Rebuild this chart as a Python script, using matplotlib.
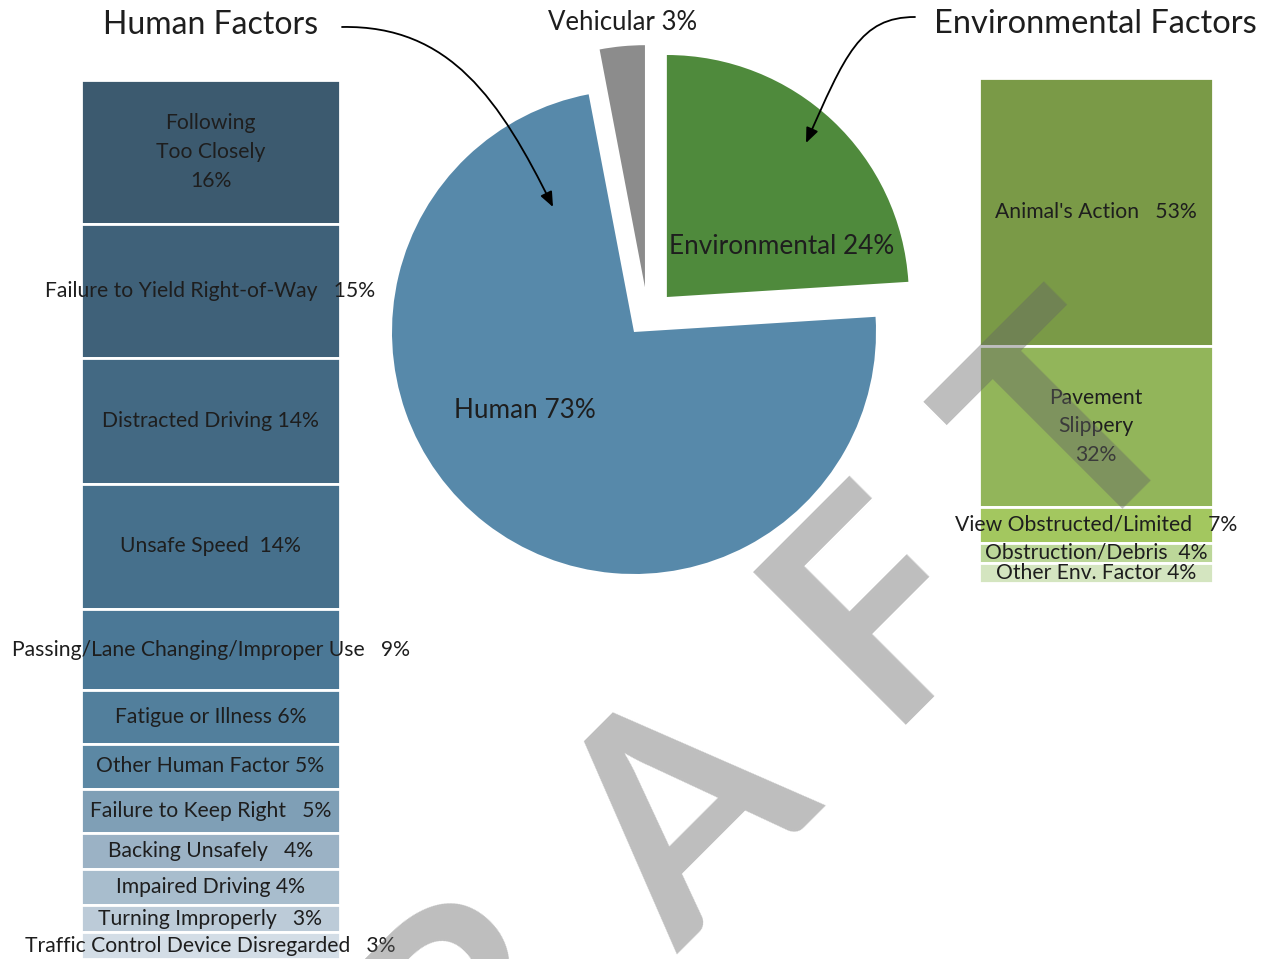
import numpy as np
import matplotlib.pyplot as plt
from matplotlib.patches import FancyArrowPatch
from matplotlib.path import Path

plt.rcParams['font.family'] = ['Lato', 'DejaVu Sans']

W, H = 1268, 959

# pie: share of crashes by factor group
pie_names = ["Environmental", "Vehicular", "Human"]
pie_values = [24, 3, 73]
pie_colors = ["#4f8a3c", "#8c8c8c", "#5789aa"]

# human factors (top to bottom of the left bar)
human_names = ["Following\nToo Closely", "Failure to Yield Right-of-Way",
               "Distracted Driving", "Unsafe Speed",
               "Passing/Lane Changing/Improper Use", "Fatigue or Illness",
               "Other Human Factor", "Failure to Keep Right",
               "Backing Unsafely", "Impaired Driving", "Turning Improperly",
               "Traffic Control Device Disregarded"]
human_values = [16, 15, 14, 14, 9, 6, 5, 5, 4, 4, 3, 3]
human_seps = ["\n", "   ", " ", "  ", "   ", " ", " ", "   ", "   ", " ", "   ", "   "]
human_colors = ["#3c5a6f", "#3f6179", "#436983", "#46708c", "#4b7896", "#527f9c",
                "#5c88a4", "#7f9fb6", "#9bb2c5", "#a8bdcd", "#bccbd8", "#d3dde6"]

# environmental factors (top to bottom of the right bar)
env_names = ["Animal's Action", "Pavement\nSlippery", "View Obstructed/Limited",
             "Obstruction/Debris", "Other Env. Factor"]
env_values = [53, 32, 7, 4, 4]
env_seps = ["   ", "\n", "   ", "  ", " "]
env_colors = ["#7a9a47", "#92b55a", "#a3c75f", "#bcd799", "#d4e5c0"]

txt = "#1e1e1e"

fig = plt.figure(figsize=(W / 100, H / 100), dpi=100)

# main axes in pixel units (y up)
ax = fig.add_axes([0, 0, 1, 1])
wedges, _ = ax.pie(pie_values, colors=pie_colors, explode=[48, 43, 0], startangle=3.6,
                   center=(634, H - 332), radius=242, frame=True)
# Excel pushed the small slice a little to the right
wedges[1].set_center(np.add(wedges[1].center, (15, 2)))
ax.set_xlim(0, W)
ax.set_ylim(0, H)
ax.set_aspect('auto')
ax.axis('off')

ax.text(525, H - 411, f"{pie_names[2]} {pie_values[2]}%", fontsize=18.8,
        ha='center', va='center', color=txt)
ax.text(782, H - 247, f"{pie_names[0]} {pie_values[0]}%", fontsize=18.8,
        ha='center', va='center', color=txt)
ax.text(623, H - 22, f"{pie_names[1]} {pie_values[1]}%", fontsize=18.5,
        ha='center', va='center', color=txt)

ax.text(211, H - 25, "Human Factors", fontsize=23, ha='center', va='center', color=txt)
ax.text(1095, H - 24, "Environmental Factors", fontsize=23.5, ha='center', va='center', color=txt)

# curved pointers from the headings
arrow_paths = [
    [(342, 27), (450, 25), (500, 100), (553, 207)],
    [(915, 17), (860, 17), (845, 55), (806, 143)],
]
for pts in arrow_paths:
    verts = [(x, H - y) for x, y in pts]
    p = Path(verts, [Path.MOVETO, Path.CURVE4, Path.CURVE4, Path.CURVE4])
    ax.add_patch(FancyArrowPatch(path=p, arrowstyle='-|>,head_length=0.6,head_width=0.25',
                                 mutation_scale=15, lw=1.3, color='black'))

# left stacked bar
axh = fig.add_axes([81 / W, 0, 259 / W, 879 / H])
hb = np.cumsum([0] + human_values[:-1])
axh.bar(0.5, human_values, bottom=hb, width=1, color=human_colors,
        edgecolor='white', linewidth=2)
axh.set_xlim(0, 1)
axh.set_ylim(sum(human_values), 0)
axh.axis('off')
for name, sep, v, b in zip(human_names, human_seps, human_values, hb):
    axh.text(0.5, b + v / 2, f"{name}{sep}{v}%", ha='center', va='center',
             fontsize=15.2, color=txt, linespacing=1.55, clip_on=False)

# right stacked bar
axe = fig.add_axes([979 / W, (H - 583) / H, 234 / W, 505 / H])
eb = np.cumsum([0] + env_values[:-1])
axe.bar(0.5, env_values, bottom=eb, width=1, color=env_colors,
        edgecolor='white', linewidth=2)
axe.set_xlim(0, 1)
axe.set_ylim(sum(env_values), 0)
axe.axis('off')
for name, sep, v, b in zip(env_names, env_seps, env_values, eb):
    axe.text(0.5, b + v / 2, f"{name}{sep}{v}%", ha='center', va='center',
             fontsize=15.2, color=txt, linespacing=1.55, clip_on=False)

# watermark on top of everything
axw = fig.add_axes([0, 0, 1, 1])
axw.set_xlim(0, W)
axw.set_ylim(0, H)
axw.axis('off')
gap = " \u200a"
axw.text(666, H - 843, gap.join("DRAFT"), fontsize=215, fontweight='bold',
         rotation=45, rotation_mode='anchor', ha='center', va='center',
         color='#646464', alpha=0.42)

fig.savefig("out.png", dpi=100)
